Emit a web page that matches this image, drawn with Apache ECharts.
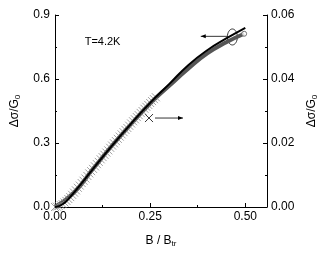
<!DOCTYPE html>
<html><head><meta charset="utf-8">
<script src="https://cdn.jsdelivr.net/npm/echarts@6/dist/echarts.min.js"></script>
<style>html,body{margin:0;padding:0;background:#fff}#c{width:327px;height:255px}</style>
</head><body><div id="c"></div>
<script>
// Fit line (left axis)
var fitX = [0, 0.02, 0.04, 0.06, 0.08, 0.10, 0.15, 0.20, 0.25, 0.30, 0.35, 0.40, 0.45, 0.50];
var fitY = [0, 0.013, 0.047, 0.09, 0.134, 0.179, 0.288, 0.391, 0.488, 0.576, 0.665, 0.735, 0.79, 0.84];
// Measured data curve (left axis), gray with open circle at end
var dataX = [0, 0.05, 0.10, 0.15, 0.20, 0.25, 0.30, 0.35, 0.40, 0.45, 0.497];
var dataY = [0, 0.068, 0.179, 0.288, 0.389, 0.485, 0.568, 0.648, 0.72, 0.772, 0.812];
// Crosses (right axis)
var crossX = [0, 0.005, 0.01, 0.015, 0.02, 0.025, 0.03, 0.035, 0.04, 0.045, 0.05, 0.055, 0.06, 0.065, 0.07, 0.075, 0.08, 0.085, 0.09, 0.095, 0.10, 0.105, 0.11, 0.115, 0.12, 0.125, 0.13, 0.135, 0.14, 0.145, 0.15, 0.155, 0.16, 0.165, 0.17, 0.175, 0.18, 0.185, 0.19, 0.195, 0.20, 0.205, 0.21, 0.215, 0.22, 0.225, 0.23, 0.235, 0.24, 0.245, 0.25, 0.255, 0.26, 0.265];
var crossY = [0, 0.0001, 0.0003, 0.0006, 0.0009, 0.0014, 0.0019, 0.0025, 0.0031, 0.0038, 0.0045, 0.0052, 0.0060, 0.0067, 0.0075, 0.0082, 0.0089, 0.0097, 0.0105, 0.0112, 0.0119, 0.0127, 0.0134, 0.0141, 0.0149, 0.0156, 0.0163, 0.0170, 0.0177, 0.0185, 0.0192, 0.0199, 0.0206, 0.0213, 0.0220, 0.0227, 0.0234, 0.0241, 0.0247, 0.0254, 0.0261, 0.0268, 0.0274, 0.0281, 0.0287, 0.0294, 0.0300, 0.0307, 0.0313, 0.0319, 0.0325, 0.0331, 0.0337, 0.0343];
var xTicks = [0, 0.25, 0.50];
var leftTicks = [0, 0.3, 0.6, 0.9];
var rightTicks = [0, 0.02, 0.04, 0.06];

var FONT = 'Liberation Sans';
function zip(a, b) { return a.map(function (v, i) { return [v, b[i]]; }); }
var crossPath = 'path://M0,0L10,10M10,0L0,10';

var chart = echarts.init(document.getElementById('c'), null, {renderer: 'canvas'});
var axisCommon = {
  axisLine: {show: true, lineStyle: {color: '#000', width: 1}},
  axisTick: {show: true, inside: true, length: 4, lineStyle: {color: '#000'}},
  minorTick: {show: true, splitNumber: 2, length: 2, lineStyle: {color: '#000'}},
  splitLine: {show: false},
  axisLabel: {color: '#000', fontFamily: FONT, fontSize: 12}
};
chart.setOption({
  animation: false,
  grid: {left: 55, right: 58, top: 15, bottom: 48, show: false},
  xAxis: Object.assign({}, axisCommon, {
    type: 'value', min: 0, max: 0.557, interval: 0.25,
    axisLabel: Object.assign({}, axisCommon.axisLabel, {margin: 4, showMaxLabel: false,
      formatter: function (v) { return xTicks.indexOf(+v.toFixed(2)) >= 0 ? v.toFixed(2) : ''; }}),
    name: '{a|B / B}{s|tr}', nameLocation: 'middle', nameGap: 27,
    nameTextStyle: {rich: {a: {fontFamily: FONT, fontSize: 12, color: '#000'}, s: {fontFamily: FONT, fontSize: 8, color: '#000', verticalAlign: 'bottom', padding: [6, 0, 0, 0]}}}
  }),
  yAxis: [
    Object.assign({}, axisCommon, {
      type: 'value', min: 0, max: 0.9, interval: 0.3, position: 'left',
      axisLabel: Object.assign({}, axisCommon.axisLabel, {margin: 5,
        formatter: function (v) { return leftTicks.indexOf(+v.toFixed(1)) >= 0 ? v.toFixed(1) : ''; }}),
      name: '{a|Δσ/G}{s|0}', nameLocation: 'middle', nameGap: 33, nameRotate: 90,
      nameTextStyle: {rich: {a: {fontFamily: FONT, fontSize: 12, color: '#000'}, s: {fontFamily: FONT, fontSize: 8, color: '#000', padding: [6, 0, 0, 0]}}}
    }),
    Object.assign({}, axisCommon, {
      type: 'value', min: 0, max: 0.06, interval: 0.02, position: 'right',
      axisLabel: Object.assign({}, axisCommon.axisLabel, {margin: 4,
        formatter: function (v) { return rightTicks.indexOf(+v.toFixed(2)) >= 0 ? v.toFixed(2) : ''; }}),
      name: '{a|Δσ/G}{s|0}', nameLocation: 'middle', nameGap: 38, nameRotate: 90,
      nameTextStyle: {rich: {a: {fontFamily: FONT, fontSize: 12, color: '#000'}, s: {fontFamily: FONT, fontSize: 8, color: '#000', padding: [6, 0, 0, 0]}}}
    })
  ],
  series: [
    {type: 'line', yAxisIndex: 0, data: zip(dataX, dataY), smooth: true, symbol: 'none',
     lineStyle: {color: '#555', width: 4}, z: 2},
    {type: 'scatter', yAxisIndex: 1, data: zip(crossX, crossY), symbol: crossPath, symbolSize: 8,
     itemStyle: {color: 'none', borderColor: '#888', borderWidth: 1}, z: 3},
    {type: 'line', yAxisIndex: 0, data: zip(fitX, fitY), smooth: true, symbol: 'none',
     lineStyle: {color: '#000', width: 2}, z: 4},
    {type: 'scatter', yAxisIndex: 0, data: [[dataX[dataX.length - 1], dataY[dataY.length - 1]]], symbol: 'circle', symbolSize: 5,
     itemStyle: {color: '#fff', borderColor: '#555', borderWidth: 1}, z: 5}
  ]
});

function px(x, y) { return chart.convertToPixel({gridIndex: 0}, [x, y]); }
var e = px(0.466, 0.797), aEnd = px(0.383, 0.80), cx = px(0.247, 0.417), tPos = px(0.078, 0.773);
chart.setOption({graphic: [
  {type: 'ellipse', shape: {cx: e[0], cy: e[1], rx: 5, ry: 8}, style: {fill: 'none', stroke: '#000', lineWidth: 0.8}},
  {type: 'line', shape: {x1: e[0] - 5, y1: aEnd[1], x2: aEnd[0], y2: aEnd[1]}, style: {stroke: '#000', lineWidth: 0.8}},
  {type: 'polygon', shape: {points: [[aEnd[0], aEnd[1]], [aEnd[0] + 5, aEnd[1] - 2], [aEnd[0] + 5, aEnd[1] + 2]]}, style: {fill: '#000'}},
  {type: 'line', shape: {x1: cx[0] - 4, y1: cx[1] - 4, x2: cx[0] + 4, y2: cx[1] + 4}, style: {stroke: '#000', lineWidth: 0.8}},
  {type: 'line', shape: {x1: cx[0] - 4, y1: cx[1] + 4, x2: cx[0] + 4, y2: cx[1] - 4}, style: {stroke: '#000', lineWidth: 0.8}},
  {type: 'line', shape: {x1: cx[0] + 6, y1: cx[1], x2: cx[0] + 34, y2: cx[1]}, style: {stroke: '#000', lineWidth: 0.8}},
  {type: 'polygon', shape: {points: [[cx[0] + 34, cx[1]], [cx[0] + 29, cx[1] - 2], [cx[0] + 29, cx[1] + 2]]}, style: {fill: '#000'}},
  {type: 'text', x: tPos[0], y: tPos[1], style: {text: 'T=4.2K', fontFamily: FONT, fontSize: 11, fill: '#000', verticalAlign: 'middle'}}
]});
</script></body></html>
